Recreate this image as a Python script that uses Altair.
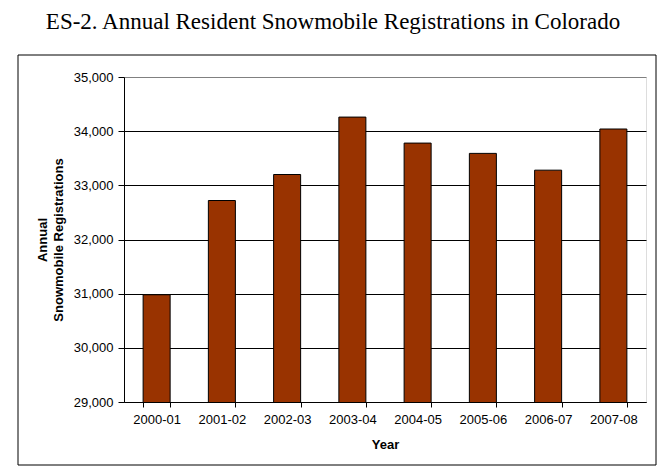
import altair as alt
import pandas as pd

years = ["2000-01", "2001-02", "2002-03", "2003-04", "2004-05", "2005-06", "2006-07", "2007-08"]
registrations = [30980, 32720, 33200, 34260, 33780, 33590, 33280, 34040]
y_ticks = [29000, 30000, 31000, 32000, 33000, 34000, 35000]

df = pd.DataFrame({"Year": years, "Registrations": registrations})
frame_df = pd.DataFrame({"k": [0]})

FONT = "Liberation Sans"

bars = alt.Chart(df).mark_bar(color="#993300", stroke="black", strokeWidth=1, clip=True).encode(
    x=alt.X(
        "Year:N",
        sort=years,
        scale=alt.Scale(paddingInner=0.586, paddingOuter=0.293),
        axis=alt.Axis(
            title="Year",
            labelAngle=0,
            tickBand="extent",
            grid=False,
            domainColor="black",
            tickColor="black",
            tickSize=5,
            labelPadding=6,
            labelFont=FONT,
            labelFontSize=13,
            labelColor="black",
            titleFont=FONT,
            titleFontSize=13,
            titleFontWeight="bold",
            titleColor="black",
            titlePadding=12,
        ),
    ),
    y=alt.Y(
        "Registrations:Q",
        scale=alt.Scale(domain=[29000, 35000], zero=False, nice=False),
        axis=alt.Axis(
            title=["Annual", "Snowmobile Registrations"],
            values=y_ticks,
            format=",d",
            grid=True,
            gridColor={"condition": {"test": "datum.value == 35000", "value": "#808080"}, "value": "black"},
            gridOpacity=1,
            domainColor="black",
            tickColor="black",
            tickSize=6,
            labelPadding=5,
            labelFont=FONT,
            labelFontSize=13,
            labelColor="black",
            titleFont=FONT,
            titleFontSize=13,
            titleFontWeight="bold",
            titleColor="black",
            titlePadding=8,
            titleLineHeight=16,
        ),
    ),
)

frame = alt.Chart(frame_df).mark_rect(filled=False, stroke="black", strokeWidth=1).encode(
    x=alt.value(-106), x2=alt.value(532), y=alt.value(-22), y2=alt.value(388)
)

chart = (
    alt.layer(frame, bars)
    .properties(
        width=522,
        height=325,
        title=alt.Title(
            "ES-2. Annual Resident Snowmobile Registrations in Colorado",
            font="Liberation Serif",
            fontSize=23,
            fontWeight="normal",
            color="black",
            anchor="middle",
            frame="group",
            dx=-52,
            offset=21,
        ),
        autosize=alt.AutoSizeParams(type="none"),
        padding={"left": 116, "top": 69, "right": 12, "bottom": 64},
    )
    .configure_view(stroke="#808080", strokeWidth=1)
    .configure(background="white")
)

chart.save("out.html", embed_options={"renderer": "svg", "actions": False})
